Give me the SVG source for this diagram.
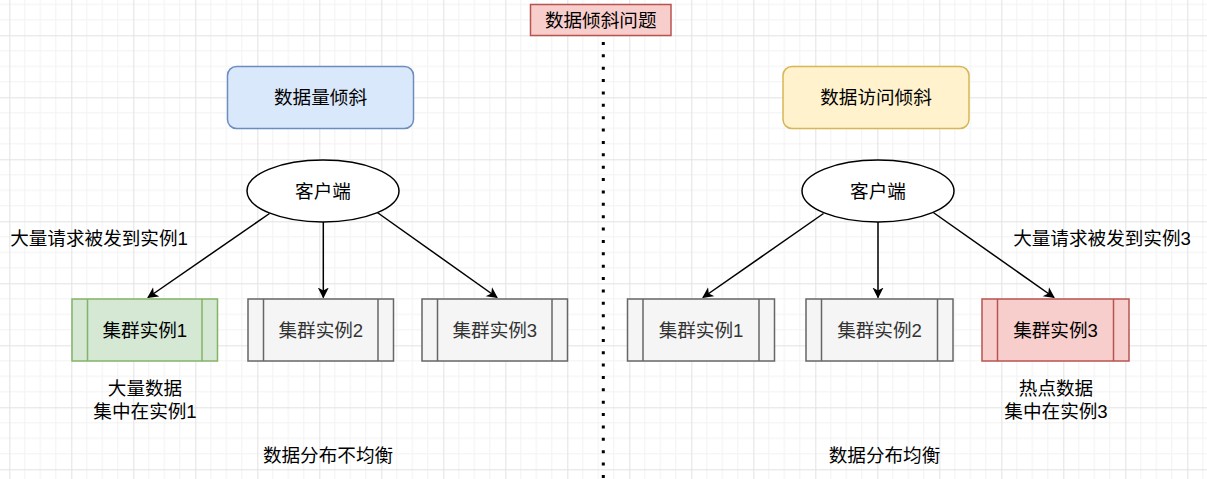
<svg xmlns="http://www.w3.org/2000/svg" width="1207" height="479" viewBox="0 0 1207 479">
<style>
text{font-family:"Liberation Sans","Noto Sans CJK SC",sans-serif;font-size:18.6px;fill:#000;text-anchor:middle;dominant-baseline:central}
.gray rect,.gray line{fill:#f5f5f5;stroke:#666666;stroke-width:1.5}
.gray text{fill:#333333}
.green rect,.green line{fill:#d5e8d4;stroke:#82b366;stroke-width:1.5}
.red rect,.red line{fill:#f8cecc;stroke:#b85450;stroke-width:1.5}
.edge{stroke:#000;stroke-width:1.5;fill:none;marker-end:url(#arr)}
</style>
<defs>
<pattern id="grid" patternUnits="userSpaceOnUse" x="9.3" y="35.3" width="62" height="62">
<path d="M15.5 0V62M31 0V62M46.5 0V62M0 15.5H62M0 31H62M0 46.5H62" stroke="#f2f2f2" stroke-width="1" fill="none"/>
<path d="M0.5 0V62M0 0.5H62" stroke="#e2e2e2" stroke-width="1" fill="none"/>
</pattern>
<marker id="arr" markerWidth="12" markerHeight="12" viewBox="0 0 12 12" refX="10" refY="6" orient="auto" markerUnits="userSpaceOnUse">
<path d="M0 0.5L11 6L0 11.5L3 6Z" fill="#000"/>
</marker>
</defs>
<rect width="1207" height="479" fill="#ffffff"/>
<rect width="1207" height="479" fill="url(#grid)"/>

<line x1="603.3" y1="42" x2="603.3" y2="479" stroke="#000" stroke-width="3" stroke-dasharray="3 9.37"/>

<g id="title">
<rect x="530.5" y="4.5" width="140.5" height="31" fill="#f8cecc" stroke="#b85450" stroke-width="1.5"/>
<text x="600.7" y="20">数据倾斜问题</text>
</g>

<g id="left-header">
<rect x="227.5" y="66.5" width="186" height="62" rx="9" fill="#dae8fc" stroke="#6c8ebf" stroke-width="1.5"/>
<text x="320.5" y="97.5">数据量倾斜</text>
</g>
<g id="right-header">
<rect x="783" y="66.5" width="186" height="62" rx="9" fill="#fff2cc" stroke="#d6b656" stroke-width="1.5"/>
<text x="876" y="97.5">数据访问倾斜</text>
</g>

<g id="connectors">
<line class="edge" x1="269.5" y1="213.5" x2="148" y2="297.5"/>
<line class="edge" x1="323.3" y1="222" x2="323.3" y2="297.5"/>
<line class="edge" x1="377.3" y1="212.5" x2="497" y2="297.5"/>
<line class="edge" x1="823.5" y1="213.5" x2="703" y2="297.5"/>
<line class="edge" x1="878" y1="222" x2="878" y2="297.5"/>
<line class="edge" x1="933.3" y1="212.5" x2="1054" y2="297.5"/>
</g>

<g id="left-client">
<ellipse cx="323" cy="191" rx="76" ry="31" fill="#fff" stroke="#000" stroke-width="1.5"/>
<text x="323" y="191">客户端</text>
</g>
<g id="right-client">
<ellipse cx="878" cy="191" rx="76" ry="31" fill="#fff" stroke="#000" stroke-width="1.5"/>
<text x="878" y="191">客户端</text>
</g>

<g id="left-inst1" class="green">
<rect x="72" y="299" width="145.5" height="62"/>
<line x1="87.5" y1="299" x2="87.5" y2="361"/>
<line x1="202" y1="299" x2="202" y2="361"/>
<text x="144.8" y="330">集群实例1</text>
</g>
<g id="left-inst2" class="gray">
<rect x="248" y="299" width="145.5" height="62"/>
<line x1="263.5" y1="299" x2="263.5" y2="361"/>
<line x1="378" y1="299" x2="378" y2="361"/>
<text x="320.8" y="330">集群实例2</text>
</g>
<g id="left-inst3" class="gray">
<rect x="422" y="299" width="145.5" height="62"/>
<line x1="437.5" y1="299" x2="437.5" y2="361"/>
<line x1="552" y1="299" x2="552" y2="361"/>
<text x="494.8" y="330">集群实例3</text>
</g>

<g id="right-inst1" class="gray">
<rect x="627.5" y="299" width="147" height="62"/>
<line x1="643" y1="299" x2="643" y2="361"/>
<line x1="759" y1="299" x2="759" y2="361"/>
<text x="701" y="330">集群实例1</text>
</g>
<g id="right-inst2" class="gray">
<rect x="806" y="299" width="147" height="62"/>
<line x1="821.5" y1="299" x2="821.5" y2="361"/>
<line x1="937.5" y1="299" x2="937.5" y2="361"/>
<text x="879.5" y="330">集群实例2</text>
</g>
<g id="right-inst3" class="red">
<rect x="982" y="299" width="147" height="62"/>
<line x1="997.5" y1="299" x2="997.5" y2="361"/>
<line x1="1113.5" y1="299" x2="1113.5" y2="361"/>
<text x="1055.5" y="330">集群实例3</text>
</g>

<g id="labels">
<text x="99" y="238">大量请求被发到实例1</text>
<text x="1102" y="238">大量请求被发到实例3</text>
<text x="145" y="388">大量数据</text>
<text x="145" y="411.5">集中在实例1</text>
<text x="1056" y="388">热点数据</text>
<text x="1056" y="411.5">集中在实例3</text>
<text x="328" y="455">数据分布不均衡</text>
<text x="884.5" y="455">数据分布均衡</text>
</g>
</svg>
